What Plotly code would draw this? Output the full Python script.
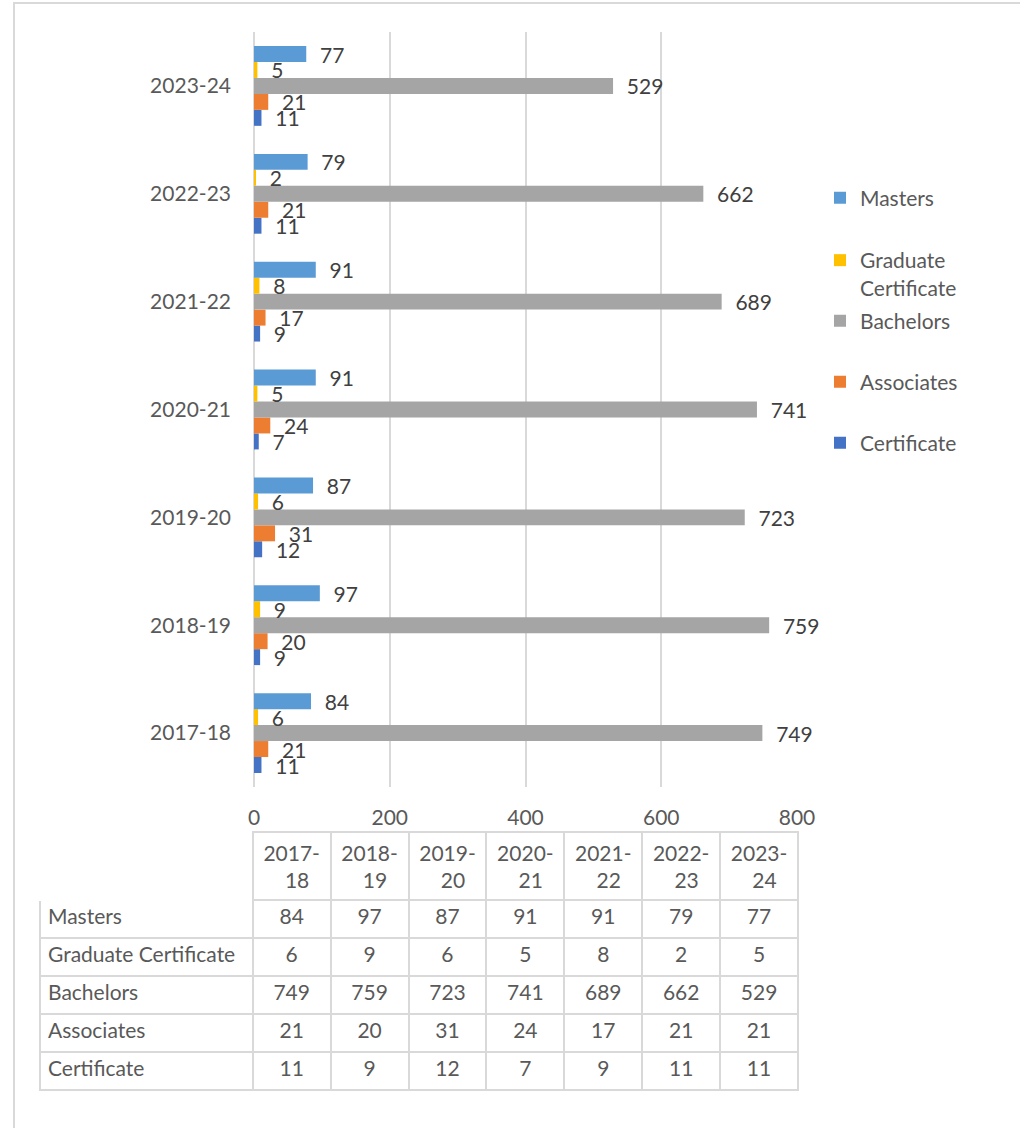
import plotly.graph_objects as go

years = ["2017-18", "2018-19", "2019-20", "2020-21", "2021-22", "2022-23", "2023-24"]
NB = "\u00a0"
header_years = ["2017-<br>" + NB * 4 + "18", "2018-<br>" + NB * 4 + "19", "2019-<br>" + NB * 4 + "20",
                "2020-<br>" + NB * 4 + "21", "2021-<br>" + NB * 4 + "22", "2022-<br>" + NB * 4 + "23",
                "2023-<br>" + NB * 4 + "24"]
x_ticks = [0, 200, 400, 600, 800]

masters = [84, 97, 87, 91, 91, 79, 77]
grad_cert = [6, 9, 6, 5, 8, 2, 5]
bachelors = [749, 759, 723, 741, 689, 662, 529]
associates = [21, 20, 31, 24, 17, 21, 21]
certificate = [11, 9, 12, 7, 9, 11, 11]

series_names = ["Masters", "Graduate" + NB + "Certificate", "Bachelors", "Associates", "Certificate"]
legend_names = ["Masters", "Graduate<br>Certificate", "Bachelors", "Associates", "Certificate"]
series_values = [masters, grad_cert, bachelors, associates, certificate]
colors = ["#5B9BD5", "#FFC000", "#A5A5A5", "#ED7D31", "#4472C4"]

W, H = 1020, 1128
FONT = "Lato"
FS = 21
TXT = "#595959"
GRID = "#D9D9D9"

fig = go.Figure()

legend_y_px = [198, 274, 321, 382, 443]
legend_ids = ["legend", "legend2", "legend3", "legend4", "legend5"]

for i in reversed(range(5)):
    fig.add_trace(go.Bar(
        y=years, x=series_values[i], orientation="h",
        name=legend_names[i],
        marker=dict(color=colors[i], line=dict(width=0)),
        texttemplate="  %{x}", textposition="outside",
        textfont=dict(family=FONT, size=FS, color="#404040"),
        cliponaxis=False, constraintext="none",
        legend=legend_ids[i],
        hoverinfo="skip",
    ))

header_vals = [""] + header_years
cell_cols = [series_names] + [[series_values[s][j] for s in range(5)] for j in range(len(years))]
fig.add_trace(go.Table(
    domain=dict(x=[40 / W, 798 / W], y=[1 - 1115 / H, 1 - 832 / H]),
    columnwidth=[213] + [78] * 7,
    header=dict(values=header_vals, height=58,
                fill=dict(color="white"),
                line=dict(color=["white"] + [GRID] * 7, width=2),
                align=["left"] + ["center"] * 7,
                font=dict(family=FONT, size=FS, color=TXT)),
    cells=dict(values=cell_cols, height=38,
               fill=dict(color="white"),
               line=dict(color=GRID, width=2),
               align=["left"] + ["center"] * 7,
               font=dict(family=FONT, size=FS, color=TXT)),
))

layout_legends = {}
for i, lid in enumerate(legend_ids):
    layout_legends[lid] = dict(
        x=820 / W, xanchor="left",
        y=1 - legend_y_px[i] / H, yanchor="middle",
        font=dict(family=FONT, size=FS, color=TXT),
        bgcolor="rgba(0,0,0,0)", borderwidth=0,
        valign="top",
    )

fig.update_layout(
    width=W, height=H,
    margin=dict(l=0, r=0, t=0, b=0, autoexpand=False),
    paper_bgcolor="white", plot_bgcolor="white",
    barmode="group", bargap=0.26, bargroupgap=0,
    font=dict(family=FONT, size=FS, color=TXT),
    showlegend=True,
    xaxis=dict(domain=[254 / W, 797 / W], range=[0, 800], tickvals=x_ticks,
               showgrid=True, gridcolor=GRID, gridwidth=2,
               zeroline=True, zerolinecolor=GRID, zerolinewidth=2,
               showline=False, ticks="", ticklabelstandoff=16, automargin=False,
               tickfont=dict(family=FONT, size=FS, color=TXT), fixedrange=True),
    yaxis=dict(domain=[1 - 787 / H, 1 - 32 / H], type="category",
               categoryorder="array", categoryarray=years,
               showgrid=False, zeroline=False, showline=False, ticks="",
               ticklabelstandoff=22, automargin=False,
               tickfont=dict(family=FONT, size=FS, color=TXT), fixedrange=True),
    shapes=[dict(type="rect", xref="paper", yref="paper",
                 x0=14 / W, x1=1040 / W, y0=-0.05, y1=1 - 3 / H,
                 line=dict(color=GRID, width=2), fillcolor="rgba(0,0,0,0)", layer="below")],
    **layout_legends,
)

fig.write_html("out.html", config={"displayModeBar": False},
               post_script="document.body.style.margin='0';document.body.style.overflow='hidden';")
